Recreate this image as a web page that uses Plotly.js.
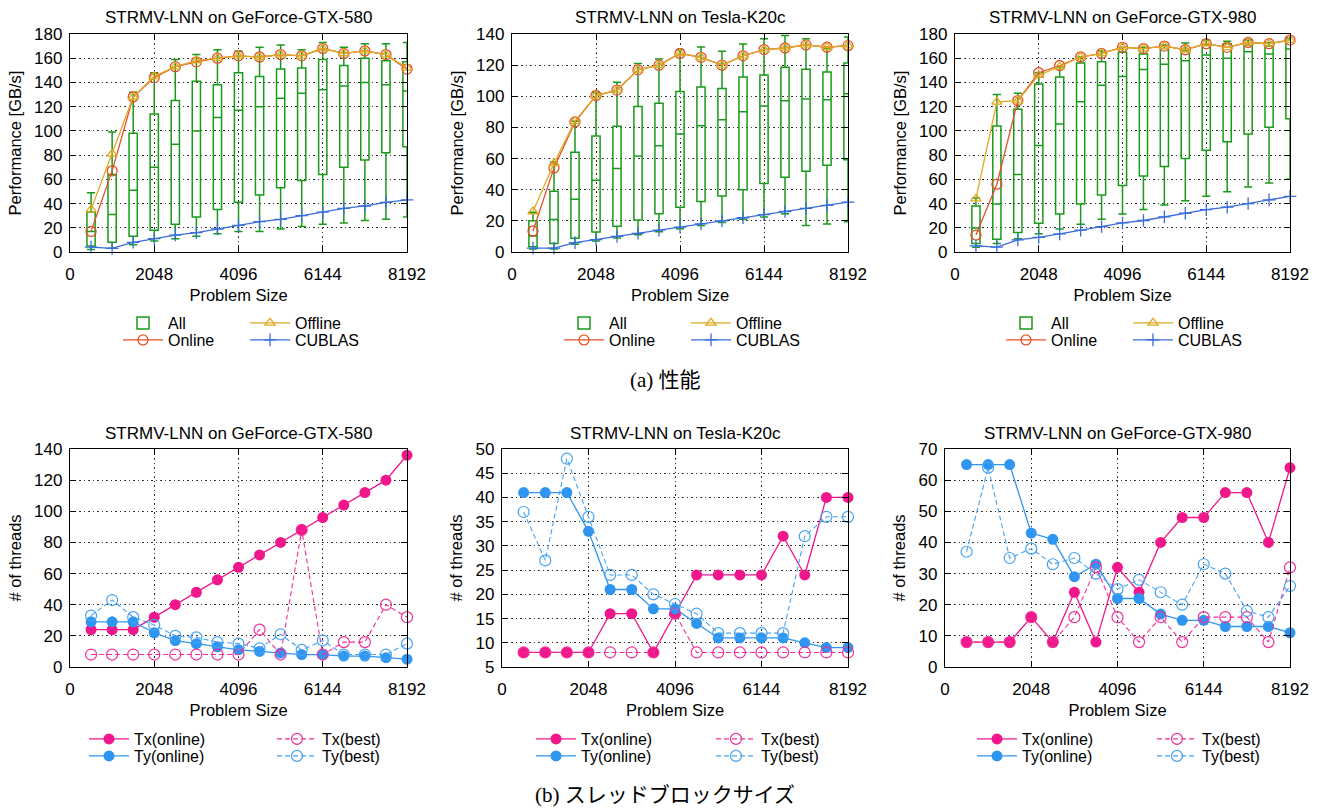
<!DOCTYPE html>
<html><head><meta charset="utf-8">
<script src="https://cdn.plot.ly/plotly-3.0.1.min.js"></script>
<style>html,body{margin:0;padding:0;background:#fff}</style>
</head><body><div id="chart" style="width:1325px;height:809px"></div>
<script>
// ---------- data ----------
const sizes = [512,1024,1536,2048,2560,3072,3584,4096,4608,5120,5632,6144,6656,7168,7680,8192];
const xTicks = [0,2048,4096,6144,8192];
const gpuNames = ["GeForce-GTX-580","Tesla-K20c","GeForce-GTX-980"];

// Performance (GB/s) — GTX-580
const lo580  = [2,3,6,9,11,13,15,17,17,19,21,23,24,26,27,29];
const q1_580 = [5,8,13,18,23,29,35,41,47,53,59,64,70,76,82,87];
const med580 = [17,31,51,70,89,100,111,117,120,127,131,134,137,140,138,133];
const q3_580 = [33,64,98,114,125,141,138,148,145,151,152,159,154,160,158,157];
const hi580  = [49,99,132,148,159,163,167,166,169,171,167,173,169,172,172,173];
const on580  = [17,67,128,144,153,157,160,162,161,163,162,168,164,166,163,151];
const off580 = [35,81,128,145,153,158,160,162,161,163,162,168,164,166,163,152];
const cub580 = [4,3,8,11,14,16,19,22,25,27,30,33,36,38,41,43];

// Performance (GB/s) — Tesla-K20c
const loK  = [2,2,5,7,9,11,13,15,17,19,21,22.5,24.5,17,18,19.5];
const q1K  = [3.4,5.5,8.8,12.8,16.5,20.5,24.6,28.7,32.5,36,40,44,48,51.8,55.7,59.3];
const medK = [10.3,20.8,33.8,46,53.7,61.6,68.3,75.8,81,85,90,93.8,97.2,98.3,97.8,101.7];
const q3K  = [20.1,39,64,74.5,80.7,93.5,95.5,103,106,105,112.4,113.7,118.6,117.3,115.6,121.4];
const hiK  = [25.5,58,84,102.5,109,121,124,130,131.7,129,133.6,137,139,137,131,138];
const onK  = [13.5,54,83.5,100.5,104,117,120,127.5,125,120,126,130,131,133,131.5,132.5];
const offK = [26,57,84,100.5,104,117,120,127.5,125,120,126,130,131,133,131.5,132.5];
const cubK = [2.5,2.5,6,8,10,12,14,16,18,20,22,24,26,28,30,32];

// Performance (GB/s) — GTX-980
const lo980  = [4,7,11,15,19,23,27,31.4,35,38.8,42.4,46,49.8,53.7,57,60];
const q1_980 = [7,10.5,16,23.7,31.4,39.6,47,55,62.7,70.5,77.3,84,91,97.4,103,110];
const med980 = [19.8,39.6,64,88,105.7,124,137.6,145,150.6,155,158,162.7,160,165.4,163.5,167.6];
const q3_980 = [38,104,117.8,138.7,144.5,156,157,165,163.5,168,166,171,172,171,170,175];
const hi980  = [44.6,130,131,148,153,161,166,169,169,171,172.6,175,174,175,173,177];
const on980  = [14,56,125,148,154,161,164,169,168,170,167,172,169,173,172,175];
const off980 = [44,124,125,146,153,161,164,169,168,170,167,172,169,173,172,175];
const cub980 = [5,4,10,12,15,18,21,24,26,29,32,35,37,40,43,46];

// Thread block sizes — GTX-580
const txOn580  = [24,24,24,32,40,48,56,64,72,80,88,96,104,112,120,136];
const tyOn580  = [29,29,29,22,17,15,13,11,10,9,8,8,7,7,6,5];
const txBest580= [8,8,8,8,8,8,8,8,24,8,88,8,16,16,40,32];
const tyBest580= [33,43,32,27,20,19,16,15,12,21,11,17,8,8,8,15];
// Tesla-K20c
const txOnK  = [8,8,8,8,16,16,8,16,24,24,24,24,32,24,40,40];
const tyOnK  = [41,41,41,33,21,21,17,17,14,11,11,11,11,10,9,9];
const txBestK= [8,8,8,8,8,8,8,16,8,8,8,8,8,8,8,8];
const tyBestK= [37,27,48,36,24,24,20,18,16,12,12,12,12,32,36,36];
// GTX-980
const txOn980  = [8,8,8,16,8,24,8,32,24,40,48,48,56,56,40,64];
const tyOn980  = [65,65,65,43,41,29,33,22,22,17,15,15,13,13,13,11];
const txBest980= [8,8,8,16,8,16,32,16,8,16,8,16,16,16,8,32];
const tyBest980= [37,64,35,38,33,35,30,25,28,24,20,33,30,18,16,26];

// ---------- layout helpers ----------
const W = 1325, H = 809;
const fx = p => p / W, fy = p => 1 - p / H;
const FONT = "Liberation Sans, Arial, sans-serif";
const SERIF = "Liberation Serif, Noto Sans CJK JP, serif";

const panels = [
  {x0:70,  x1:407,  y0:34,  y1:252, yr:[0,180], dt:20, yt:"Performance [GB/s]"},
  {x0:512, x1:848,  y0:34,  y1:252, yr:[0,140], dt:20, yt:"Performance [GB/s]"},
  {x0:955, x1:1290, y0:34,  y1:252, yr:[0,180], dt:20, yt:"Performance [GB/s]"},
  {x0:70,  x1:407,  y0:449, y1:667, yr:[0,140], dt:20, yt:"# of threads"},
  {x0:502, x1:848,  y0:449, y1:667, yr:[5,50],  dt:5,  yt:"# of threads"},
  {x0:945, x1:1290, y0:449, y1:667, yr:[0,70],  dt:10, yt:"# of threads"}
];

const layout = {
  width: W, height: H,
  margin: {l:0, r:0, t:0, b:0},
  paper_bgcolor: "#fff", plot_bgcolor: "#fff",
  font: {family: FONT, color: "#000", size: 16},
  annotations: [],
  showlegend: true
};

panels.forEach((p, i) => {
  const s = i === 0 ? "" : String(i + 1);
  const common = {
    ticks: "inside", ticklen: 6, tickcolor: "#000", tickwidth: 1,
    showline: true, linecolor: "#000", linewidth: 1.2, mirror: "ticks",
    showgrid: true, gridcolor: "#333", griddash: "1.5px,3px", gridwidth: 1,
    zeroline: false, tickfont: {family: FONT, size: 17, color: "#000"}
  };
  layout["xaxis" + s] = Object.assign({}, common, {
    domain: [fx(p.x0), fx(p.x1)], anchor: "y" + s,
    range: [0, 8192], tickmode: "array", tickvals: xTicks, ticktext: xTicks.map(String),
    ticklabelstandoff: 6,
    title: {text: "Problem Size", font: {family: FONT, size: 16.5}, standoff: 6}
  });
  layout["yaxis" + s] = Object.assign({}, common, {
    domain: [fy(p.y1), fy(p.y0)], anchor: "x" + s,
    range: p.yr, dtick: p.dt, tick0: 0,
    ticklabelstandoff: 3,
    title: {text: p.yt, font: {family: FONT, size: 16.5}, standoff: 8}
  });
  layout.annotations.push({
    xref: "paper", yref: "paper", x: fx((p.x0 + p.x1) / 2), y: fy(i < 3 ? 18 : 433),
    xanchor: "center", yanchor: "middle", showarrow: false,
    text: "STRMV-LNN on " + gpuNames[i % 3], font: {family: FONT, size: 17, color: "#000"}
  });
});

layout.annotations.push({xref:"paper", yref:"paper", x: fx(665), y: fy(380), xanchor:"center", yanchor:"middle",
  showarrow:false, text:"(a) 性能", font:{family: SERIF, size: 21, color:"#000"}});
layout.annotations.push({xref:"paper", yref:"paper", x: fx(665), y: fy(795), xanchor:"center", yanchor:"middle",
  showarrow:false, text:"(b) スレッドブロックサイズ", font:{family: SERIF, size: 21, color:"#000"}});

// legends: one legend per trace so each entry sits in its own grid cell
const legendCols = [[118,245],[559,686],[1001,1128],[84,272],[531,711],[972,1152]];
const legendRows = [[323,340],[323,340],[323,340],[739,756],[739,756],[739,756]];
let legendCount = 0;
function newLegend(panel, col, row) {
  legendCount += 1;
  const id = legendCount === 1 ? "legend" : "legend" + legendCount;
  layout[id] = {
    x: fx(legendCols[panel][col]), xanchor: "left",
    y: fy(legendRows[panel][row]), yanchor: "middle",
    bgcolor: "rgba(0,0,0,0)", borderwidth: 0, itemwidth: 40,
    font: {family: FONT, size: 16, color: "#000"}, orientation: "v"
  };
  return id;
}

// ---------- traces ----------
const traces = [];
const perf = [
  {lo: lo580, q1: q1_580, med: med580, q3: q3_580, hi: hi580, on: on580, off: off580, cub: cub580},
  {lo: loK, q1: q1K, med: medK, q3: q3K, hi: hiK, on: onK, off: offK, cub: cubK},
  {lo: lo980, q1: q1_980, med: med980, q3: q3_980, hi: hi980, on: on980, off: off980, cub: cub980}
];
perf.forEach((d, i) => {
  const s = i === 0 ? "" : String(i + 1);
  const xa = "x" + s, ya = "y" + s;
  traces.push({type: "box", name: "All", x: sizes, q1: d.q1, median: d.med, q3: d.q3,
    lowerfence: d.lo, upperfence: d.hi, width: 200, whiskerwidth: 1, boxpoints: false,
    line: {color: "#1a9a1a", width: 1.5}, fillcolor: "rgba(0,0,0,0)",
    xaxis: xa, yaxis: ya, legend: newLegend(i, 0, 0)});
  traces.push({type: "scatter", mode: "lines+markers", name: "Online", x: sizes, y: d.on,
    line: {color: "#e4502a", width: 1.3}, marker: {symbol: "circle-open", size: 10, color: "#e4502a", line: {width: 1.3}},
    cliponaxis: false, xaxis: xa, yaxis: ya, legend: newLegend(i, 0, 1)});
  traces.push({type: "scatter", mode: "lines+markers", name: "Offline", x: sizes, y: d.off,
    line: {color: "#dfa922", width: 1.3}, marker: {symbol: "triangle-up-open", size: 9, color: "#dfa922", line: {width: 1.3}},
    cliponaxis: false, xaxis: xa, yaxis: ya, legend: newLegend(i, 1, 0)});
  traces.push({type: "scatter", mode: "lines+markers", name: "CUBLAS", x: sizes, y: d.cub,
    line: {color: "#3a6ddc", width: 1.3}, marker: {symbol: "cross-thin-open", size: 9, color: "#3a6ddc", line: {width: 1.3, color: "#3a6ddc"}},
    cliponaxis: false, xaxis: xa, yaxis: ya, legend: newLegend(i, 1, 1)});
});

const threads = [
  {txOn: txOn580, tyOn: tyOn580, txBest: txBest580, tyBest: tyBest580},
  {txOn: txOnK, tyOn: tyOnK, txBest: txBestK, tyBest: tyBestK},
  {txOn: txOn980, tyOn: tyOn980, txBest: txBest980, tyBest: tyBest980}
];
const PINK = "#f0168c", BLUE = "#2f95f0", LBLUE = "#45a3f2", LPINK = "#f0309a";
threads.forEach((d, j) => {
  const i = j + 3;
  const s = String(i + 1);
  const xa = "x" + s, ya = "y" + s;
  traces.push({type: "scatter", mode: "lines+markers", name: "Tx(online)", x: sizes, y: d.txOn,
    line: {color: PINK, width: 1.3}, marker: {symbol: "circle", size: 11, color: PINK},
    cliponaxis: false, xaxis: xa, yaxis: ya, legend: newLegend(i, 0, 0)});
  traces.push({type: "scatter", mode: "lines+markers", name: "Ty(online)", x: sizes, y: d.tyOn,
    line: {color: BLUE, width: 1.3}, marker: {symbol: "circle", size: 11, color: BLUE},
    cliponaxis: false, xaxis: xa, yaxis: ya, legend: newLegend(i, 0, 1)});
  traces.push({type: "scatter", mode: "lines+markers", name: "Tx(best)", x: sizes, y: d.txBest,
    line: {color: LPINK, width: 1.1, dash: "5px,3px"}, marker: {symbol: "circle-open", size: 11, color: LPINK, line: {width: 1.2}},
    cliponaxis: false, xaxis: xa, yaxis: ya, legend: newLegend(i, 1, 0)});
  traces.push({type: "scatter", mode: "lines+markers", name: "Ty(best)", x: sizes, y: d.tyBest,
    line: {color: LBLUE, width: 1.1, dash: "5px,3px"}, marker: {symbol: "circle-open", size: 11, color: LBLUE, line: {width: 1.2}},
    cliponaxis: false, xaxis: xa, yaxis: ya, legend: newLegend(i, 1, 1)});
});

Plotly.newPlot("chart", traces, layout, {displayModeBar: false, staticPlot: true});
</script>
</body></html>
